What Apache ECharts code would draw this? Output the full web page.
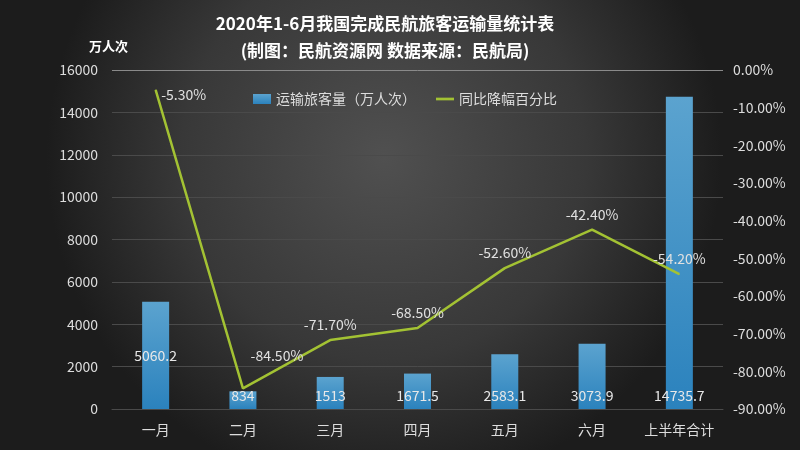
<!DOCTYPE html>
<html><head><meta charset="utf-8">
<script src="https://cdn.jsdelivr.net/npm/echarts@6/dist/echarts.min.js"></script>
<style>html,body{margin:0;padding:0;background:#2a2a2a;}#c{width:800px;height:450px;}</style>
</head><body><div id="c"></div>
<script>
const categories = ['一月','二月','三月','四月','五月','六月','上半年合计'];
const passengers = [5060.2, 834, 1513, 1671.5, 2583.1, 3073.9, 14735.7];
const declinePct = [-5.3, -84.5, -71.7, -68.5, -52.6, -42.4, -54.2];

const font = '"Noto Sans CJK SC", "Noto Sans", sans-serif';
const chart = echarts.init(document.getElementById('c'));
const gridColors = ['#4a4a4a','#4a4a4a','#4a4a4a','#4a4a4a','#4a4a4a','#4a4a4a','#4a4a4a','#4a4a4a','#8a8a8a'];
const lineLabelOverrides = {
  0: {position:'right', distance:5, offset:[0,5]},
  1: {position:'top', offset:[34,-17]}
};
chart.setOption({
  backgroundColor: {type:'radial', x:0.48, y:0.35, r:0.75,
    colorStops:[{offset:0,color:'#505050'},{offset:0.6,color:'#383838'},{offset:1,color:'#1c1c1c'}]},
  textStyle:{fontFamily:font},
  title:[
    {text:'2020年1-6月我国完成民航旅客运输量统计表', left:380, top:10, textAlign:'center',
     textStyle:{color:'#fff', fontSize:17, fontWeight:'bold', fontFamily:font}},
    {text:'(制图：民航资源网 数据来源：民航局)', left:380, top:37, textAlign:'center',
     textStyle:{color:'#fff', fontSize:17, fontWeight:'bold', fontFamily:font}},
    {text:'万人次', left:84, top:35,
     textStyle:{color:'#fff', fontSize:13, fontWeight:'bold', fontFamily:font}}
  ],
  legend:{top:87, left:248, itemGap:20, itemWidth:18, itemHeight:10,
    textStyle:{color:'#ddd', fontSize:14, fontFamily:font},
    data:[{name:'运输旅客量（万人次）', icon:'rect'},
          {name:'同比降幅百分比', icon:'path://M0,0 L20,0 L20,3 L0,3 Z', itemStyle:{color:'#a3c233'}}]},
  grid:{left:112, right:77, top:70, bottom:41},
  xAxis:{type:'category', data:categories,
    axisLine:{show:true, lineStyle:{color:'#4a4a4a'}}, axisTick:{show:false},
    axisLabel:{color:'#ddd', fontSize:14, margin:14, interval:0, fontFamily:font}},
  yAxis:[
    {type:'value', min:0, max:16000, interval:2000,
     axisLabel:{color:'#ddd', fontSize:14, margin:14, fontFamily:font, formatter:v=>String(v)},
     axisLine:{show:false}, axisTick:{show:false},
     splitLine:{lineStyle:{color:gridColors, width:1}}},
    {type:'value', min:-90, max:0, interval:10,
     axisLabel:{color:'#ddd', fontSize:14, margin:10, fontFamily:font,
       formatter:v=>v.toFixed(2)+'%'},
     axisLine:{show:false}, axisTick:{show:false}, splitLine:{show:false}}
  ],
  series:[
    {name:'运输旅客量（万人次）', type:'bar', barWidth:27, yAxisIndex:0,
     itemStyle:{color:{type:'linear',x:0,y:0,x2:0,y2:1,colorStops:[{offset:0,color:'#5ba3cf'},{offset:1,color:'#2b82bd'}]}},
     label:{show:true, position:'insideBottom', distance:6, color:'#e8e8e8', fontSize:14, fontFamily:font},
     data:passengers.map((v,i)=> i===0 ? {value:v, label:{position:'inside'}} : v)},
    {name:'同比降幅百分比', type:'line', yAxisIndex:1, symbol:'circle', symbolSize:1, showSymbol:true,
     lineStyle:{color:'#a3c233', width:2.5}, itemStyle:{color:'#a3c233'},
     label:{show:true, position:'top', distance:8, color:'#e0e0e0', fontSize:14, fontFamily:font,
       formatter:p=>p.value.toFixed(2)+'%'},
     data:declinePct.map((v,i)=> lineLabelOverrides[i] ? {value:v, label:lineLabelOverrides[i]} : v)}
  ]
});
</script></body></html>
